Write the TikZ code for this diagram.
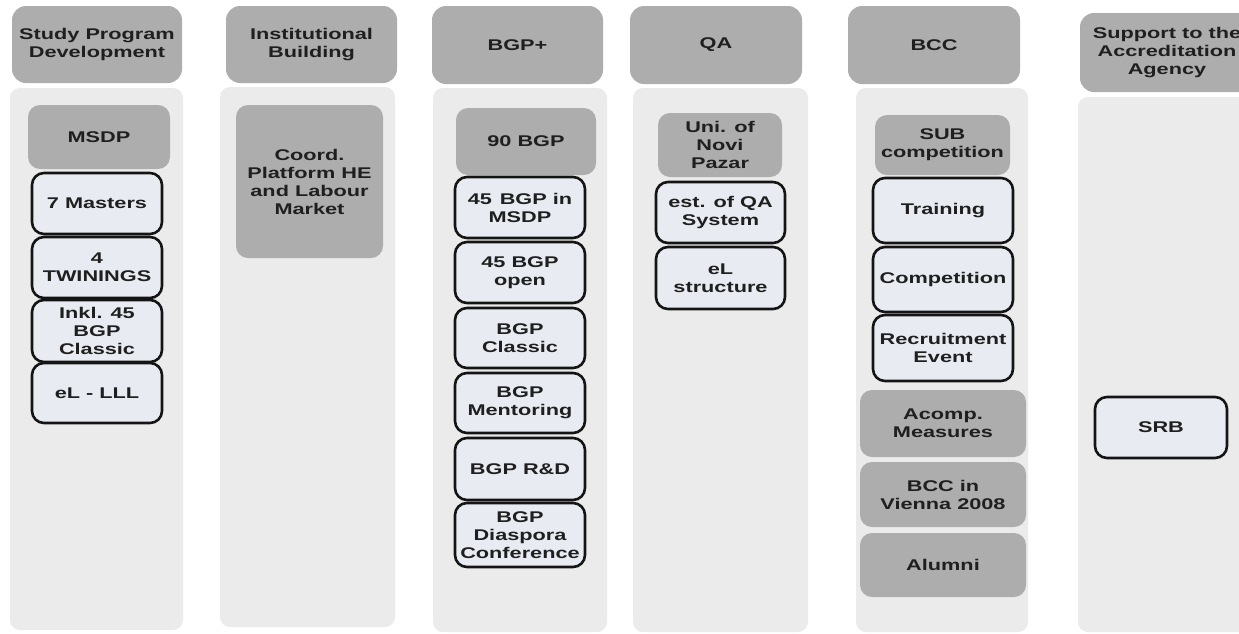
\documentclass[tikz,border=0pt]{standalone}
\usepackage{fontspec}
\setmainfont{Liberation Sans}[FakeStretch=1.4]
\begin{document}
\begin{tikzpicture}[x=1pt,y=-1pt,
  every node/.style={inner sep=0pt, align=center, text=black!88, font=\bfseries\fontsize{15.5}{18}\selectfont},
  hdr/.style={fill=hgray, rounded corners=14pt},
  colbody/.style={fill=bgray, rounded corners=10pt},
  gbox/.style={fill=hgray, rounded corners=12pt},
  lbox/.style={fill=lblue, draw=black!92, line width=2.6pt, rounded corners=12pt},
  sz/.style 2 args={minimum width=#1pt, minimum height=#2pt}]
\definecolor{hgray}{HTML}{ADADAD}
\definecolor{bgray}{HTML}{EBEBEB}
\definecolor{lblue}{HTML}{E8ECF2}
\useasboundingbox (0,0) rectangle (1239,633);
\clip (0,0) rectangle (1239,633);
\fill[white] (0,0) rectangle (1239,633);
% column bodies
\node[colbody, sz={173}{542}] (b1) at (96.5,359) {};
\node[colbody, sz={175}{540}] (b2) at (307.5,357) {};
\node[colbody, sz={174}{544}] (b3) at (520,360) {};
\node[colbody, sz={175}{544}] (b4) at (720.5,360) {};
\node[colbody, sz={172}{544}] (b5) at (942,360) {};
\node[colbody, sz={174}{535}] (b6) at (1165,364.5) {};
% headers
\node[hdr, sz={170}{77}] (h1) at (97,44.5) {Study Program\\Development};
\node[hdr, sz={171}{77}] (h2) at (311.5,44.5) {Institutional\\Building};
\node[hdr, sz={171}{78}] (h3) at (517.5,45) {BGP+};
\node[hdr, sz={172}{78}] (h4) at (716,45) {QA};
\node[hdr, sz={172}{78}] (h5) at (934,45) {BCC};
\node[hdr, sz={174}{79}] (h6) at (1167,52.5) {Support to the\\Accreditation\\Agency};
% column 1
\node[gbox, sz={142}{64}] (msdp) at (99,137) {MSDP};
\node[lbox, sz={130}{61}] (mast) at (97,203.5) {7 Masters};
\node[lbox, sz={130}{61}] (twin) at (97,267.5) {4\\TWININGS};
\node[lbox, sz={130}{62}] (inkl) at (97,331) {Inkl. 45\\BGP\\Classic};
\node[lbox, sz={130}{60}] (elll) at (97,393) {eL - LLL};
% column 2
\node[gbox, sz={147}{153}] (coord) at (309.5,181.5) {Coord.\\Platform HE\\and Labour\\Market};
% column 3
\node[gbox, sz={140}{67}] (bgp90) at (526,141.5) {90 BGP};
\node[lbox, sz={130}{61}] (bgpm) at (520,207.5) {45\enspace BGP in\\MSDP};
\node[lbox, sz={130}{61}] (bgpo) at (520,272.5) {45 BGP\\open};
\node[lbox, sz={130}{60}] (bgpc) at (520,338) {BGP\\Classic};
\node[lbox, sz={130}{60}] (bgpme) at (520,403) {BGP\\Mentoring};
\node[lbox, sz={130}{62}] (bgprd) at (520,469) {BGP R\&D};
\node[lbox, sz={130}{64}] (bgpd) at (520,535) {BGP\\Diaspora\\Conference};
% column 4
\node[gbox, sz={124}{64}] (uni) at (720,145) {Uni. of\\Novi\\Pazar};
\node[lbox, sz={129}{61}] (estqa) at (720.5,212.5) {est. of QA\\System};
\node[lbox, sz={129}{62}] (elstr) at (720.5,278) {eL\\structure};
% column 5
\node[gbox, sz={135}{60}] (sub) at (942.5,145) {SUB\\competition};
\node[lbox, sz={140}{65}] (train) at (943,210.5) {Training};
\node[lbox, sz={140}{65}] (comp) at (943,279.5) {Competition};
\node[lbox, sz={140}{66}] (recr) at (943,348) {Recruitment\\Event};
\node[gbox, sz={166}{67}] (acomp) at (943,423.5) {Acomp.\\Measures};
\node[gbox, sz={166}{65}] (vienna) at (943,494.5) {BCC in\\Vienna 2008};
\node[gbox, sz={166}{64}] (alum) at (943,565) {Alumni};
% column 6
\node[lbox, sz={132}{61}] (srb) at (1161,427.5) {SRB};
\end{tikzpicture}
\end{document}
